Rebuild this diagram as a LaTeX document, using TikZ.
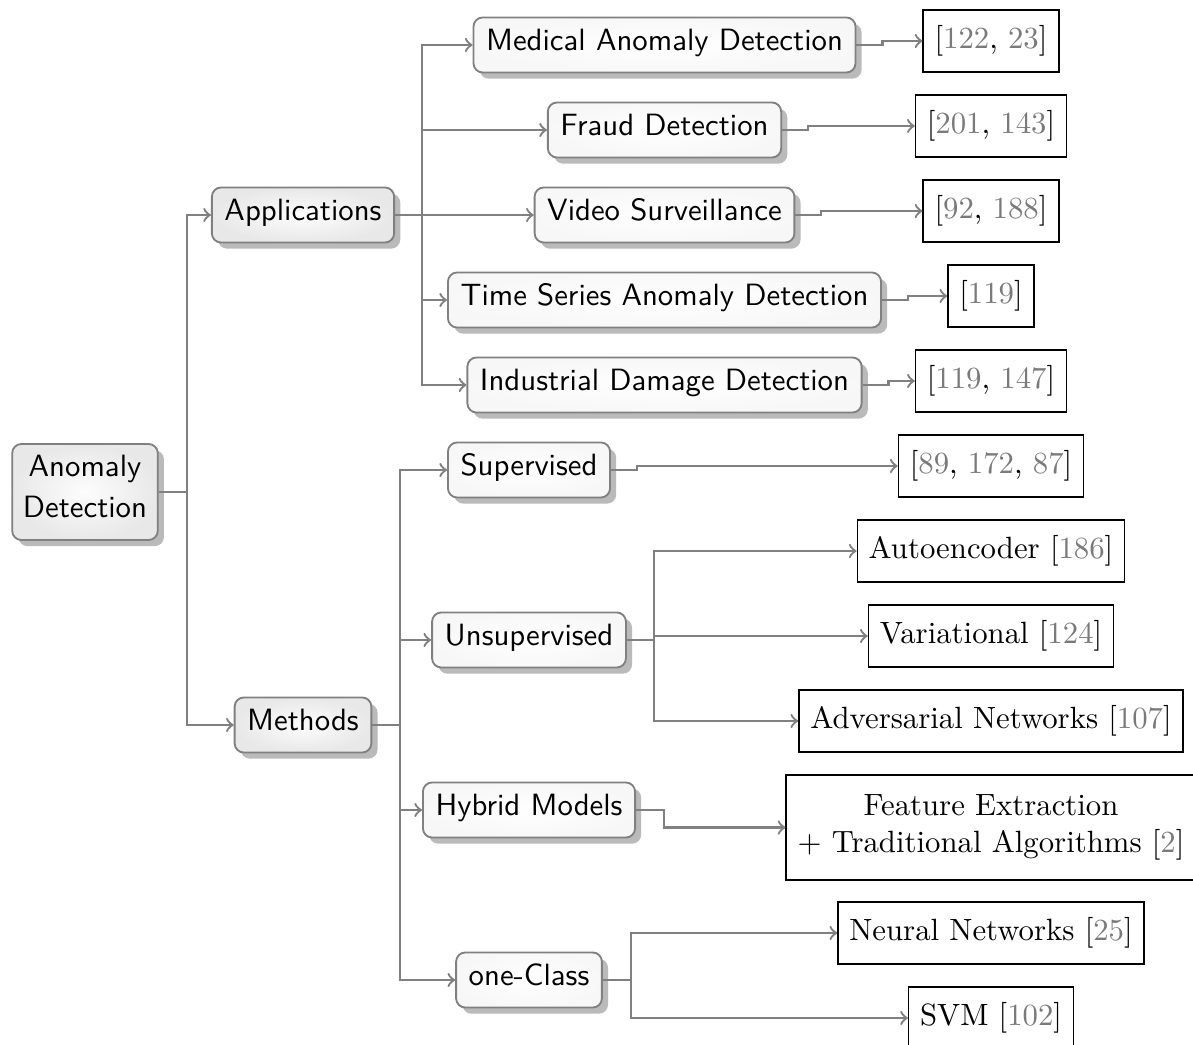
\documentclass[tikz,border=0pt]{standalone}
\usetikzlibrary{shadows}
\definecolor{edgegray}{HTML}{808080}
\definecolor{citegray}{HTML}{7A7A7A}
\newcommand\refno[1]{\textcolor{citegray}{#1}}
\begin{document}
\begin{tikzpicture}[x=0.325pt,y=-0.325pt,
  base/.style={rounded corners=3pt, draw=black!50, line width=0.6pt, font=\sffamily,
    inner xsep=4.1pt, inner ysep=3pt, text height=7.6pt, text depth=4.3pt,
    drop shadow={shadow xshift=2pt, shadow yshift=-2pt, fill=black!27, opacity=1}},
  topic/.style={base, shade, shading=radial, inner color=gray!2, outer color=gray!18},
  leaf/.style={base, shade, shading=radial, inner color=white, outer color=gray!6},
  cite/.style={draw=black, line width=0.5pt, inner xsep=3.7pt, minimum height=20.2pt},
  edge/.style={draw=edgegray, line width=0.75pt, ->},
]
\useasboundingbox (0,0) rectangle (1193,1045);

% root and main branches
\node[topic, align=center, text height=, text depth=, inner xsep=3.5pt]
  (root) at (85,492)
  {\rule{0pt}{7.6pt}Anomaly\\[1.3pt]Detection\rule[-4.3pt]{0pt}{4.3pt}};
\node[topic] (app) at (303,215) {Applications};
\node[topic] (meth) at (303,725) {Methods};

% applications
\node[leaf] (med)   at (664.5,45)  {Medical Anomaly Detection};
\node[leaf] (fraud) at (664.5,130) {Fraud Detection};
\node[leaf] (video) at (664.5,215) {Video Surveillance};
\node[leaf] (time)  at (664.5,300) {Time Series Anomaly Detection};
\node[leaf] (ind)   at (664.5,385) {Industrial Damage Detection};

% methods
\node[leaf] (sup)   at (529,470) {Supervised};
\node[leaf] (unsup) at (529,640) {Unsupervised};
\node[leaf] (hyb)   at (529,810) {Hybrid Models};
\node[leaf] (onec)  at (529,980) {one-Class};

% references
\node[cite] (c1) at (991,41)  {[\refno{122}, \refno{23}]};
\node[cite] (c2) at (991,126) {[\refno{201}, \refno{143}]};
\node[cite] (c3) at (991,211) {[\refno{92}, \refno{188}]};
\node[cite] (c4) at (991,296) {[\refno{119}]};
\node[cite] (c5) at (991,381) {[\refno{119}, \refno{147}]};
\node[cite] (c6) at (991,466) {[\refno{89}, \refno{172}, \refno{87}]};
\node[cite] (auto) at (991,551) {Autoencoder [\refno{186}]};
\node[cite] (vari) at (991,636) {Variational [\refno{124}]};
\node[cite] (adv)  at (991,721) {Adversarial Networks [\refno{107}]};
\node[cite, align=center, minimum height=34.2pt] (feat) at (991,827.5)
  {Feature Extraction\\$+$ Traditional Algorithms [\refno{2}]};
\node[cite] (neural) at (991,933)  {Neural Networks [\refno{25}]};
\node[cite] (svm)    at (991,1018) {SVM [\refno{102}]};

% connectors
\foreach \c in {app,meth}
  \draw[edge] (root.east) -- ++(28,0) |- (\c.west);
\foreach \c in {med,fraud,video,time,ind}
  \draw[edge] (app.east) -- ++(27,0) |- (\c.west);
\foreach \c in {sup,unsup,hyb,onec}
  \draw[edge] (meth.east) -- ++(28,0) |- (\c.west);
\foreach \a/\b in {med/c1,fraud/c2,video/c3,time/c4,ind/c5,sup/c6}
  \draw[edge] (\a.east) -- ++(26,0) |- (\b.west);
\foreach \c in {auto,vari,adv}
  \draw[edge] (unsup.east) -- ++(27,0) |- (\c.west);
\draw[edge] (hyb.east) -- ++(28,0) |- (feat.west);
\foreach \c in {neural,svm}
  \draw[edge] (onec.east) -- ++(28,0) |- (\c.west);
\end{tikzpicture}
\end{document}
